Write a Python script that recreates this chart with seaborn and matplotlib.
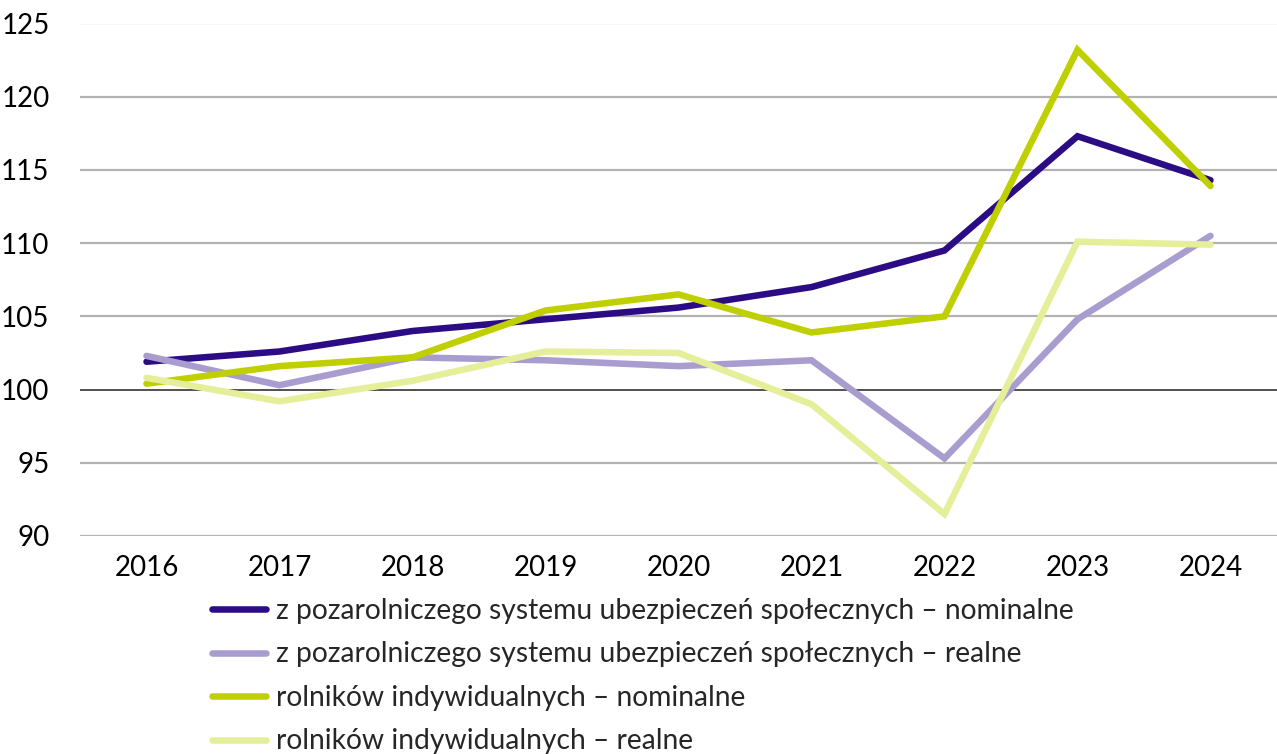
import matplotlib
matplotlib.use("Agg")
import matplotlib.pyplot as plt
import seaborn as sns
import pandas as pd

years = ["2016", "2017", "2018", "2019", "2020", "2021", "2022", "2023", "2024"]
series_names = [
    "z pozarolniczego systemu ubezpieczeń społecznych – nominalne",
    "z pozarolniczego systemu ubezpieczeń społecznych – realne",
    "rolników indywidualnych – nominalne",
    "rolników indywidualnych – realne",
]
nonagri_nominal = [101.9, 102.6, 104.0, 104.8, 105.6, 107.0, 109.5, 117.3, 114.3]
nonagri_real = [102.3, 100.3, 102.2, 102.0, 101.6, 102.0, 95.3, 104.8, 110.5]
farmers_nominal = [100.4, 101.6, 102.2, 105.4, 106.5, 103.9, 105.0, 123.2, 113.9]
farmers_real = [100.8, 99.2, 100.6, 102.6, 102.5, 99.0, 91.5, 110.1, 109.9]
colors = ["#2b0c84", "#a99dcf", "#bfcf00", "#e5ee99"]
yticks = [90, 95, 100, 105, 110, 115, 120, 125]

values = [nonagri_nominal, nonagri_real, farmers_nominal, farmers_real]
rows = []
for name, vals in zip(series_names, values):
    for i, (yr, v) in enumerate(zip(years, vals)):
        rows.append({"idx": i, "year": yr, "value": v, "series": name})
df = pd.DataFrame(rows)

sns.set_theme(style="white")
plt.rcParams["font.family"] = ["Lato", "DejaVu Sans"]

fig = plt.figure(figsize=(12.77, 7.54), dpi=100)
ax = fig.add_axes([80 / 1277, 1 - 536 / 754, 1197 / 1277, (536 - 23.5) / 754])

for y in yticks:
    if y == 100:
        ax.axhline(y, color="#333333", lw=1.2, zorder=1)
    else:
        ax.axhline(y, color="#b3b3b3", lw=1.6, zorder=1)

sns.lineplot(data=df, x="idx", y="value", hue="series", hue_order=series_names,
             palette=colors, linewidth=4.7, ax=ax, legend=False, zorder=3,
             solid_capstyle="round", solid_joinstyle="miter")

ax.set_xlim(-0.5, 8.5)
ax.set_ylim(90, 125)
ax.set_xticks(range(len(years)))
ax.set_xticklabels(years)
ax.set_yticks(yticks)
ax.set_yticklabels([str(t) for t in yticks])
ax.tick_params(axis="both", length=0, labelsize=20, colors="black")
ax.tick_params(axis="y", pad=22)
ax.tick_params(axis="x", pad=14)
ax.set_xlabel("")
ax.set_ylabel("")
for s in ax.spines.values():
    s.set_visible(False)

from matplotlib.lines import Line2D
handles = [Line2D([0], [0], color=c, lw=4.7, solid_capstyle="round") for c in colors]
fig.legend(handles, series_names, loc="upper left",
           bbox_to_anchor=(212 / 1277, 1 - 598 / 754), frameon=False,
           fontsize=20.3, handlelength=1.9, handletextpad=0.38, labelspacing=0.62,
           borderaxespad=0, borderpad=0)

fig.savefig("out.png", dpi=100)
